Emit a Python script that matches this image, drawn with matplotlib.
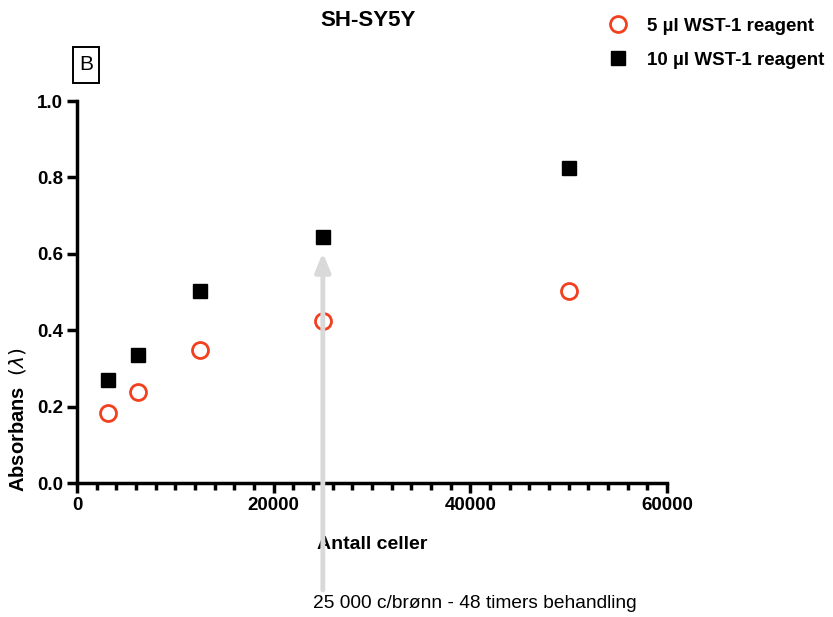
import matplotlib
matplotlib.use("Agg")
import matplotlib.pyplot as plt
from matplotlib.ticker import MultipleLocator
from matplotlib.patches import Rectangle

plt.rcParams['font.family'] = ['Liberation Sans', 'DejaVu Sans']

cells = [3125, 6250, 12500, 25000, 50000]
abs_5ul = [0.183, 0.238, 0.348, 0.424, 0.503]
abs_10ul = [0.270, 0.335, 0.503, 0.644, 0.825]
label_5 = "5 µl WST-1 reagent"
label_10 = "10 µl WST-1 reagent"

W, H = 833, 617
fig = plt.figure(figsize=(W/100, H/100), dpi=100)
ax = fig.add_axes([77/W, 1-483/H, (667-77)/W, (483-101)/H])

red = '#f2401f'
ax.plot(cells, abs_5ul, 'o', ms=11.5, mfc='white', mec=red, mew=2, linestyle='none', label=label_5, zorder=3)
ax.plot(cells, abs_10ul, 's', ms=10.5, mfc='black', mec='black', linestyle='none', label=label_10, zorder=3)

ax.set_xlim(0, 60000)
ax.set_ylim(0, 1.0)
ax.xaxis.set_major_locator(MultipleLocator(20000))
ax.xaxis.set_minor_locator(MultipleLocator(2000))
ax.yaxis.set_major_locator(MultipleLocator(0.2))
ax.yaxis.set_major_formatter(plt.FuncFormatter(lambda v, p: f"{v:.1f}"))
for s in ['top', 'right']:
    ax.spines[s].set_visible(False)
for s in ['left', 'bottom']:
    ax.spines[s].set_linewidth(2.5)
ax.tick_params(which='major', direction='out', length=7, width=2.5, labelsize=13.5, pad=3)
ax.tick_params(which='minor', direction='out', length=5, width=2.5)
for lab in ax.get_xticklabels() + ax.get_yticklabels():
    lab.set_fontweight('bold')

ax.set_xlabel("Antall celler", fontsize=14, fontweight='bold', labelpad=16)
ax.set_ylabel("Absorbans  $(\\lambda)$", fontsize=14.5, fontweight='bold')
ax.yaxis.set_label_coords(-0.083, 0.165)

fig.text(368/W, 1-21/H, "SH-SY5Y", ha='center', va='center', fontsize=16, fontweight='bold')
fig.patches.append(Rectangle((73/W, 1-83/H), 26/W, 36/H, transform=fig.transFigure,
                             fc='white', ec='black', lw=1.4))
fig.text(86/W, 1-65/H, "B", ha='center', va='center', fontsize=15)

fig.legend(loc='upper right', bbox_to_anchor=(841/W, 1.0 - 1/H), frameon=False,
           prop={'size': 13.5, 'weight': 'bold'}, handletextpad=0.55, labelspacing=0.9)

ax.annotate("", xy=(25000, 0.603), xytext=(25000, -0.28), xycoords='data',
            arrowprops=dict(arrowstyle='-|>,head_length=1.1,head_width=0.45', color='#d9d9d9', lw=3.5,
                            shrinkA=0, shrinkB=0), annotation_clip=False, zorder=5)
fig.text(475/W, 1-604/H, "25 000 c/brønn - 48 timers behandling", ha='center', va='center', fontsize=13.8)

fig.savefig("out.png", dpi=100)
